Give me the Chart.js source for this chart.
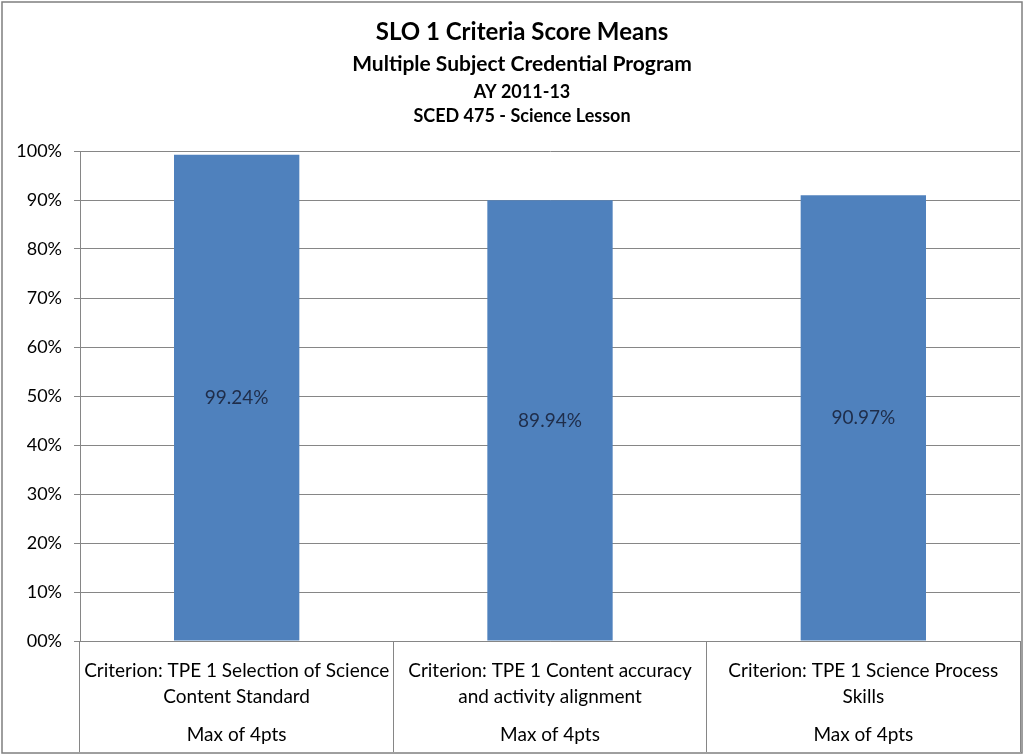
<!DOCTYPE html>
<html>
<head>
<meta charset="utf-8">
<script src="https://cdn.jsdelivr.net/npm/chart.js@4/dist/chart.umd.min.js"></script>
<style>
  body { margin: 0; background: #fff; }
  #wrap { width: 1024px; height: 756px; }
</style>
</head>
<body>
<div id="wrap"><canvas id="myChart" width="1024" height="756"></canvas></div>
<script>
const categories = [
    ['Criterion: TPE 1 Selection of Science', 'Content Standard'],
    ['Criterion: TPE 1 Content accuracy', 'and activity alignment'],
    ['Criterion: TPE 1 Science Process', 'Skills']
];
const maxLabels = ['Max of 4pts', 'Max of 4pts', 'Max of 4pts'];
const scores = [99.24, 89.94, 90.97];
const titleLines = ['SLO 1 Criteria Score Means', 'Multiple Subject Credential Program', 'AY 2011-13', 'SCED 475 - Science Lesson'];

const FONT = 'Lato, "Open Sans", sans-serif';
const GRID = '#868686';

// white background, outer frame and the four heading lines
const framePlugin = {
    id: 'frame',
    beforeDraw(chart) {
        const c = chart.ctx;
        c.save();
        c.fillStyle = '#fff';
        c.fillRect(0, 0, chart.width, chart.height);
        c.strokeStyle = '#7f7f7f';
        c.lineWidth = 1.5;
        c.strokeRect(2, 2, chart.width - 4, chart.height - 5);

        const sizes = [24, 21, 18, 18];
        const ys = [32, 64, 92, 116];
        c.fillStyle = '#000';
        c.textAlign = 'center';
        c.textBaseline = 'middle';
        titleLines.forEach(function(t, i) {
            c.font = 'bold ' + sizes[i] + 'px ' + FONT;
            c.fillText(t, 522, ys[i]);
        });
        c.restore();
    }
};

// value labels centred in each bar, plus the second category row
const labelPlugin = {
    id: 'labels',
    afterDatasetsDraw(chart) {
        const c = chart.ctx;
        const meta = chart.getDatasetMeta(0);
        c.save();
        c.font = '19px ' + FONT;
        c.fillStyle = '#1f2d4a';
        c.textAlign = 'center';
        c.textBaseline = 'middle';
        meta.data.forEach(function(bar, i) {
            c.fillText(scores[i].toFixed(2) + '%', bar.x, (bar.y + bar.base) / 2);
        });
        const x = chart.scales.x;
        c.font = '19px ' + FONT;
        c.fillStyle = '#000';
        maxLabels.forEach(function(t, i) {
            c.fillText(t, x.getPixelForValue(i), 735);
        });
        c.restore();
    }
};

const ctx = document.getElementById('myChart').getContext('2d');
const chart = new Chart(ctx, {
    type: 'bar',
    data: {
        labels: categories,
        datasets: [{
            data: scores,
            backgroundColor: '#4f81bd',
            barPercentage: 0.4,
            categoryPercentage: 1
        }]
    },
    options: {
        responsive: false,
        animation: false,
        devicePixelRatio: 1,
        layout: { padding: { top: 151, left: 0, right: 4, bottom: 0 } },
        plugins: {
            legend: { display: false },
            tooltip: { enabled: false }
        },
        scales: {
            x: {
                grid: {
                    offset: true,
                    drawOnChartArea: false,
                    drawTicks: true,
                    tickLength: 111,
                    color: GRID
                },
                border: { color: GRID },
                ticks: {
                    color: '#000',
                    font: { family: FONT, size: 19, lineHeight: 1.37 },
                    padding: -94,
                    maxRotation: 0,
                    autoSkip: false
                },
                afterFit(scale) { scale.height = 115; }
            },
            y: {
                min: 0,
                max: 100,
                grid: { color: GRID, tickLength: 6 },
                border: { color: GRID },
                ticks: {
                    stepSize: 10,
                    color: '#000',
                    font: { family: FONT, size: 18 },
                    padding: 12,
                    callback: function(v) { return (v === 0 ? '00' : v) + '%'; }
                },
                afterFit(scale) { scale.width = 80; }
            }
        }
    },
    plugins: [framePlugin, labelPlugin]
});
</script>
</body>
</html>
